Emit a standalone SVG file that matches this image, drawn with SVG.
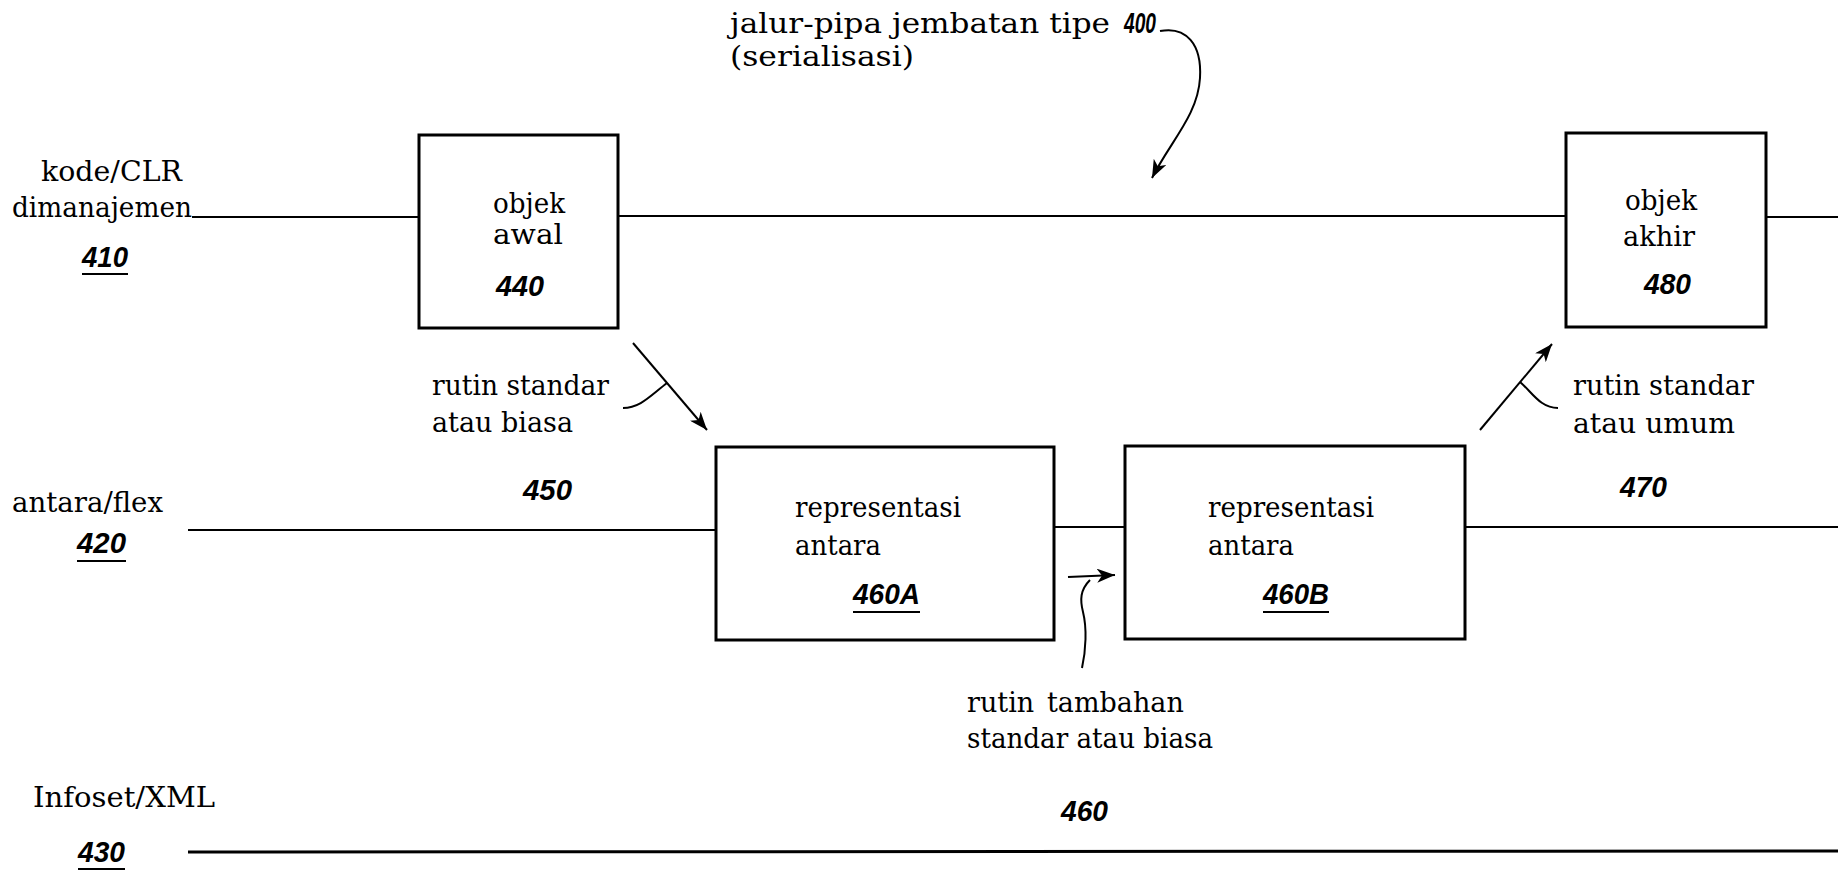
<svg xmlns="http://www.w3.org/2000/svg" width="1838" height="871" viewBox="0 0 1838 871">
<style>
.t{font-family:"DejaVu Serif","Liberation Serif",serif;font-size:27px;fill:#000}
.n{font-family:"Liberation Sans",Arial,sans-serif;font-size:29px;font-weight:bold;font-style:italic;fill:#000}
.box{fill:#fff;stroke:#000;stroke-width:3}
.ln{stroke:#000;stroke-width:2;fill:none}
.ul{stroke:#000;stroke-width:2}
.ar{stroke:#000;stroke-width:2;fill:none;marker-end:url(#ah)}
</style>
<defs>
<marker id="ah" markerUnits="userSpaceOnUse" markerWidth="20" markerHeight="14" refX="18" refY="7" orient="auto">
<path d="M0,0 L18,7 L0,14 L5,7 z" fill="#000"/>
</marker>
</defs>
<rect width="1838" height="871" fill="#fff"/>
<g id="connectors">
<line class="ln" x1="192" y1="217" x2="419" y2="217"/>
<line class="ln" x1="618" y1="216" x2="1566" y2="216"/>
<line class="ln" x1="1766" y1="217" x2="1838" y2="217"/>
<line class="ln" x1="188" y1="530" x2="716" y2="530"/>
<line class="ln" x1="1054" y1="527" x2="1125" y2="527"/>
<line class="ln" x1="1465" y1="527" x2="1838" y2="527"/>
<line class="ln" x1="188" y1="852" x2="1838" y2="851" style="stroke-width:3"/>
<path class="ar" d="M1160,31 C1186,26 1202,44 1200,78 C1198,115 1170,142 1152,178"/>
<line class="ar" x1="633" y1="343" x2="707" y2="430"/>
<line class="ar" x1="1480" y1="430" x2="1552" y2="344"/>
<line class="ar" x1="1068" y1="577" x2="1115" y2="575"/>
<path class="ln" d="M623,408 C640,408 650,396 667,383"/>
<path class="ln" d="M1558,408 C1540,408 1532,392 1520,382"/>
<path class="ln" d="M1090,580 C1080,590 1080,600 1083,612 C1087,628 1086,650 1082,668"/>
</g>
<g id="title">
<text class="t" x="730" y="33" textLength="380" lengthAdjust="spacingAndGlyphs">jalur-pipa jembatan tipe</text>
<text class="n" x="1124" y="33" textLength="32" lengthAdjust="spacingAndGlyphs">400</text>
<text class="t" x="730" y="66" textLength="184" lengthAdjust="spacingAndGlyphs">(serialisasi)</text>
</g>
<g id="layer410">
<text class="t" x="41" y="181" textLength="141" lengthAdjust="spacingAndGlyphs">kode/CLR</text>
<text class="t" x="12" y="217" textLength="180" lengthAdjust="spacingAndGlyphs">dimanajemen</text>
<text class="n" x="82" y="267" textLength="46" lengthAdjust="spacingAndGlyphs">410</text>
<line class="ul" x1="82" y1="274" x2="128" y2="274"/>
</g>
<g id="layer420">
<text class="t" x="12" y="512" textLength="151" lengthAdjust="spacingAndGlyphs">antara/flex</text>
<text class="n" x="77" y="553" textLength="49" lengthAdjust="spacingAndGlyphs">420</text>
<line class="ul" x1="77" y1="561" x2="126" y2="561"/>
</g>
<g id="layer430">
<text class="t" x="33" y="807" textLength="182" lengthAdjust="spacingAndGlyphs">Infoset/XML</text>
<text class="n" x="78" y="862" textLength="47" lengthAdjust="spacingAndGlyphs">430</text>
<line class="ul" x1="78" y1="869" x2="125" y2="869"/>
</g>
<g id="node440">
<rect class="box" x="419" y="135" width="199" height="193"/>
<text class="t" x="493" y="213" textLength="72" lengthAdjust="spacingAndGlyphs">objek</text>
<text class="t" x="493" y="244" textLength="70" lengthAdjust="spacingAndGlyphs">awal</text>
<text class="n" x="496" y="296" textLength="48" lengthAdjust="spacingAndGlyphs">440</text>
</g>
<g id="node480">
<rect class="box" x="1566" y="133" width="200" height="194"/>
<text class="t" x="1625" y="210" textLength="72" lengthAdjust="spacingAndGlyphs">objek</text>
<text class="t" x="1623" y="246" textLength="72" lengthAdjust="spacingAndGlyphs">akhir</text>
<text class="n" x="1644" y="294" textLength="47" lengthAdjust="spacingAndGlyphs">480</text>
</g>
<g id="label450">
<text class="t" x="432" y="395" textLength="177" lengthAdjust="spacingAndGlyphs">rutin standar</text>
<text class="t" x="432" y="432" textLength="141" lengthAdjust="spacingAndGlyphs">atau biasa</text>
<text class="n" x="523" y="500" textLength="49" lengthAdjust="spacingAndGlyphs">450</text>
</g>
<g id="node460A">
<rect class="box" x="716" y="447" width="338" height="193"/>
<text class="t" x="795" y="517" textLength="166" lengthAdjust="spacingAndGlyphs">representasi</text>
<text class="t" x="795" y="555" textLength="86" lengthAdjust="spacingAndGlyphs">antara</text>
<text class="n" x="853" y="604" textLength="67" lengthAdjust="spacingAndGlyphs">460A</text>
<line class="ul" x1="853" y1="612" x2="920" y2="612"/>
</g>
<g id="node460B">
<rect class="box" x="1125" y="446" width="340" height="193"/>
<text class="t" x="1208" y="517" textLength="166" lengthAdjust="spacingAndGlyphs">representasi</text>
<text class="t" x="1208" y="555" textLength="86" lengthAdjust="spacingAndGlyphs">antara</text>
<text class="n" x="1263" y="604" textLength="66" lengthAdjust="spacingAndGlyphs">460B</text>
<line class="ul" x1="1263" y1="612" x2="1329" y2="612"/>
</g>
<g id="label470">
<text class="t" x="1573" y="395" textLength="181" lengthAdjust="spacingAndGlyphs">rutin standar</text>
<text class="t" x="1573" y="433" textLength="162" lengthAdjust="spacingAndGlyphs">atau umum</text>
<text class="n" x="1620" y="497" textLength="47" lengthAdjust="spacingAndGlyphs">470</text>
</g>
<g id="label460">
<text class="t" y="712"><tspan x="967">rutin</tspan> <tspan x="1047">tambahan</tspan></text>
<text class="t" x="967" y="748" textLength="246" lengthAdjust="spacingAndGlyphs">standar atau biasa</text>
<text class="n" x="1061" y="821" textLength="47" lengthAdjust="spacingAndGlyphs">460</text>
</g>
</svg>
